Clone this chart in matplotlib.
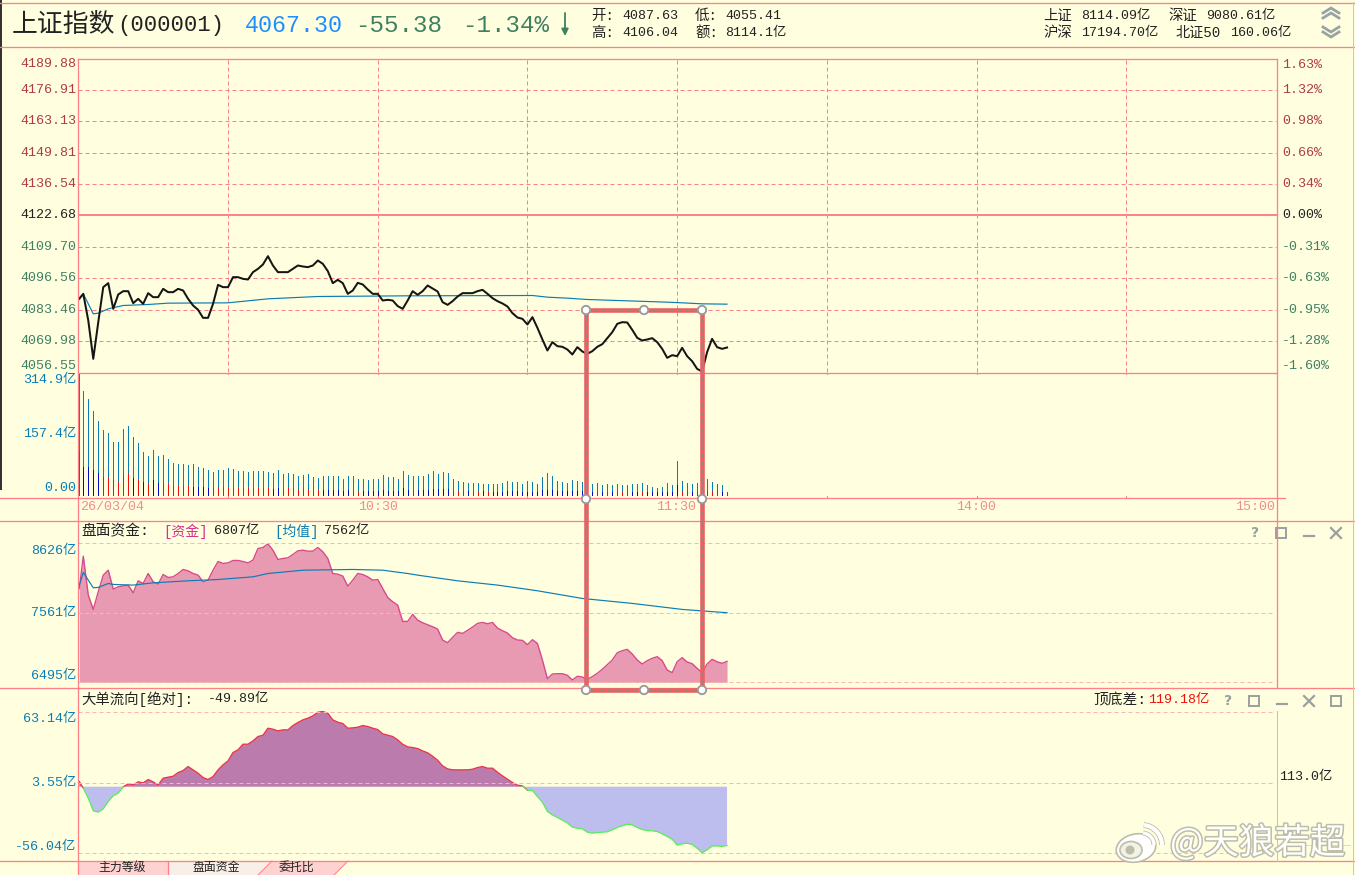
import numpy as np
import matplotlib
matplotlib.use("Agg")
import matplotlib.pyplot as plt
import matplotlib.patheffects as pe
from matplotlib.patches import Rectangle, Polygon, Ellipse, Circle, Arc

plt.rcParams['font.family'] = ['Liberation Mono', 'Noto Sans CJK SC', 'DejaVu Sans']

# 分时价格 (每分钟一个点, 9:30 起)
price = [4087.01, 4089.15, 4077.74, 4061.33, 4077.03, 4092.01, 4093.72, 4082.73, 4088.87, 4090.29,
         4090.29, 4085.16, 4087.01, 4084.87, 4089.44, 4087.73, 4087.73, 4091.29, 4089.87, 4089.87,
         4091.29, 4090.58, 4087.01, 4084.16, 4082.31, 4078.88, 4078.88, 4084.87, 4093.00, 4092.01,
         4092.01, 4096.29, 4096.29, 4095.57, 4095.29, 4098.43, 4099.85, 4101.71, 4105.27, 4101.28,
         4098.43, 4098.43, 4098.43, 4099.85, 4101.28, 4100.85, 4100.57, 4101.28, 4103.42, 4102.00,
         4098.86, 4093.72, 4095.15, 4093.72, 4089.15, 4090.58, 4093.86, 4093.15, 4091.01, 4089.15,
         4089.15, 4086.30, 4086.59, 4086.30, 4083.90,
         4082.73, 4086.30, 4090.29, 4088.73, 4090.29, 4092.72, 4091.44, 4090.15, 4085.59, 4084.44,
         4086.01, 4088.01, 4089.44, 4089.44, 4089.44, 4090.29, 4090.87, 4089.15, 4087.30, 4086.01,
         4085.02, 4083.73, 4080.88, 4079.02, 4078.45, 4076.03, 4079.17, 4074.60, 4069.61, 4064.90,
         4068.47, 4066.75, 4066.47, 4065.33, 4063.19, 4066.33, 4064.47, 4063.47, 4064.61, 4066.47,
         4067.61, 4070.18, 4072.75, 4076.31, 4077.03, 4076.88, 4073.74, 4070.32, 4069.18, 4069.61,
         4070.18, 4068.47, 4065.61, 4061.76, 4062.90, 4062.47, 4066.04, 4062.47, 4060.33, 4057.05,
         4055.91, 4064.19, 4069.89, 4066.33, 4065.61, 4066.18]
avg_min = [0, 1, 2, 3, 4, 6, 9, 14, 18, 30, 38, 48, 66, 91, 94, 98, 102, 110, 118, 121, 125, 130]
avg_price = [4087.01, 4089.15, 4084.87, 4080.59, 4080.88, 4082.73, 4084.16, 4084.59, 4085.16, 4085.30,
             4087.01, 4088.01, 4088.30, 4088.44, 4087.73, 4087.30, 4086.73, 4086.16, 4085.59, 4085.30,
             4084.87, 4084.73]

# 成交额 (亿): 总量, 下半段, 下半段颜色 1=红 0=蓝
vol_total = [314.7, 267.9, 249.7, 218.5, 192.5, 169.0, 159.5, 137.9, 136.1, 171.7,
             179.5, 150.9, 135.3, 111.8, 101.4, 117.0, 101.4, 104.0, 93.6, 83.2,
             80.6, 79.8, 78.0, 80.6, 72.8, 70.2, 65.0, 59.8, 65.0, 65.0,
             70.2, 67.6, 62.4, 62.4, 59.8, 62.4, 62.4, 62.4, 59.8, 57.2,
             65.0, 54.6, 56.4, 54.6, 49.4, 51.1, 54.6, 46.0, 44.2, 49.4,
             49.4, 49.4, 49.4, 41.6, 49.4, 49.4, 41.6, 41.6, 39.0, 41.6,
             41.6, 52.0, 46.0, 46.8, 41.6,
             62.4, 52.0, 49.4, 49.4, 49.4, 54.6, 62.4, 54.6, 59.8, 57.2,
             41.6, 36.4, 33.8, 31.2, 31.2, 31.2, 28.6, 28.6, 28.6, 28.6,
             31.2, 36.4, 33.8, 33.8, 28.6, 36.4, 33.8, 28.6, 46.8, 57.2,
             49.4, 36.4, 33.8, 31.2, 39.0, 36.4, 33.8, 30.3, 28.6, 31.2,
             26.0, 28.6, 26.0, 28.6, 26.0, 26.0, 28.6, 28.6, 31.2, 26.0,
             20.8, 18.2, 20.8, 31.2, 26.0, 88.4, 36.4, 31.2, 28.6, 31.2,
             39.0, 41.6, 33.8, 28.6, 26.0, 7.8]
vol_low = [112.7, 73.7, 73.7, 65.0, 56.4, 47.7, 46.0, 39.0, 34.7, 52.0,
           56.4, 45.0, 39.0, 34.7, 30.3, 39.0, 30.3, 30.3, 28.6, 24.3,
           24.3, 24.3, 24.3, 21.7, 21.7, 20.0, 19.0, 20.0, 20.0, 20.8,
           20.8, 20.8, 19.0, 19.0, 18.0, 18.0, 19.0, 19.0, 18.0, 16.5,
           18.0, 13.0, 19.0, 14.7, 14.7, 16.5, 14.7, 14.0, 14.0, 13.0,
           13.0, 13.0, 13.0, 11.3, 13.0, 13.0, 11.3, 11.3, 10.4, 11.3,
           11.3, 13.0, 11.3, 11.3, 11.3,
           19.0, 13.0, 13.0, 13.0, 13.0, 13.0, 15.6, 14.7, 15.6, 15.6,
           10.4, 10.4, 10.4, 10.4, 10.4, 10.4, 10.4, 8.7, 8.7, 8.7,
           8.7, 10.4, 10.4, 10.4, 8.7, 8.7, 8.7, 8.7, 13.0, 13.0,
           13.0, 10.4, 10.4, 10.4, 10.4, 10.4, 10.4, 8.7, 8.7, 8.7,
           8.7, 8.7, 8.7, 8.7, 8.7, 8.7, 8.7, 8.7, 8.7, 8.7,
           6.9, 6.9, 6.9, 8.7, 8.7, 26.0, 10.4, 10.4, 8.7, 8.7,
           10.4, 10.4, 10.4, 10.4, 8.7, 4.3]
vol_red = [1, 0, 0, 0, 0, 1, 1, 1, 1, 1, 1, 0, 1, 0, 1, 0, 0, 1, 1, 1,
           1, 1, 1, 0, 0, 0, 0, 1, 1, 1, 1, 1, 1, 1, 1, 1, 1, 1, 1, 0,
           0, 1, 1, 1, 1, 1, 1, 1, 1, 0, 0, 0, 0, 0, 0, 1, 1, 0, 0, 0,
           0, 0, 0, 0, 0,
           0, 0, 1, 0, 0, 0, 0, 0, 0, 0,
           1, 1, 1, 0, 1, 1, 0, 1, 0, 0,
           0, 0, 0, 0, 0, 0, 0, 0, 0, 0,
           0, 0, 0, 0, 0, 0, 0, 0, 0, 1,
           0, 1, 0, 1, 1, 1, 0, 0, 1, 0,
           0, 0, 0, 0, 0, 0, 1, 1, 0, 1,
           1, 1, 1, 1, 0, 1]

# 盘面资金 (亿)
capital = [7935, 8431, 7833, 7614, 7884, 8140, 8216, 7925, 7961, 7976,
           7987, 7869, 8053, 8012, 8165, 8038, 8002, 8150, 8104, 8114,
           8165, 8227, 8206, 8165, 8140, 8038, 8063, 8216, 8349, 8319,
           8329, 8365, 8365, 8349, 8329, 8370, 8549, 8564, 8620, 8523,
           8380, 8395, 8406, 8457, 8513, 8523, 8508, 8508, 8564, 8498,
           8395, 8165, 8155, 8125, 7971, 8063, 8165, 8150, 8114, 8063,
           8073, 7935, 7797, 7731, 7680,
           7430, 7430, 7537, 7450, 7409, 7379, 7348, 7312, 7144, 7103,
           7184, 7261, 7246, 7292, 7343, 7399, 7414, 7394, 7414, 7328,
           7287, 7251, 7179, 7144, 7139, 7072, 7149, 7092, 6837, 6551,
           6622, 6627, 6627, 6602, 6530, 6587, 6576, 6541, 6582, 6633,
           6694, 6765, 6837, 6949, 6980, 7001, 6929, 6837, 6776, 6827,
           6863, 6888, 6827, 6684, 6643, 6811, 6873, 6806, 6781, 6709,
           6643, 6776, 6847, 6811, 6786, 6817]
cap_avg_min = [0, 1, 2, 3, 4, 6, 7, 11, 15, 22, 28, 35, 38, 45, 55, 61, 66, 68, 76, 84, 92, 101, 111, 121, 130]
cap_avg = [7935, 8181, 8063, 7946, 7951, 8012, 7997, 7987, 8022, 8053, 8073, 8114, 8165, 8216, 8227,
           8216, 8165, 8140, 8053, 7987, 7900, 7782, 7706, 7614, 7563]

# 大单流向 (亿)
flow = [4.39, -1.23, -9.64, -20.31, -21.43, -18.62, -12.45, -7.68, -5.44, -0.10,
        2.42, 1.58, 4.11, 3.27, 6.07, 4.11, 1.58, 7.19, 8.03, 8.87,
        11.96, 13.65, 17.01, 14.21, 11.40, 7.75, 6.07, 8.60, 14.21, 18.42,
        21.78, 28.80, 31.04, 35.81, 35.81, 38.62, 42.27, 43.39, 49.28, 48.44,
        47.04, 47.88, 47.88, 51.53, 54.05, 56.30, 57.70, 59.66, 62.75, 63.31,
        61.91, 56.30, 54.33, 53.21, 49.28, 49.56, 50.12, 51.53, 50.69, 49.28,
        48.16, 44.51, 43.39, 42.27, 39.46,
        35.81, 33.57, 33.01, 32.17, 30.20, 28.52, 25.71, 22.35, 17.57, 15.05,
        14.21, 14.21, 14.21, 14.21, 14.77, 16.17, 17.01, 15.61, 15.61, 12.24,
        9.16, 6.35, 3.55, 1.30, 0.74, -2.91, -3.19, -8.24, -13.01, -20.87,
        -23.67, -25.92, -28.16, -30.41, -34.06, -34.90, -35.46, -38.27, -39.11, -38.55,
        -38.27, -37.99, -36.30, -34.34, -32.93, -31.53, -32.09, -34.34, -36.02, -36.86,
        -37.14, -37.70, -39.67, -41.91, -44.16, -49.21, -48.09, -47.53, -48.65, -51.73,
        -55.66, -53.14, -50.05, -49.77, -50.33, -49.49]

price_labels = ['4189.88', '4176.91', '4163.13', '4149.81', '4136.54', '4122.68',
                '4109.70', '4096.56', '4083.46', '4069.98', '4056.55']
pct_labels = ['1.63%', '1.32%', '0.98%', '0.66%', '0.34%', '0.00%',
              '-0.31%', '-0.63%', '-0.95%', '-1.28%', '-1.60%']
vol_ticks = [314.9, 157.4, 0.0]
vol_labels = ['314.9亿', '157.4亿', '0.00']
cap_ticks = [8626, 7561, 6495]
flow_ticks = [63.14, 3.55, -56.04]
time_labels = ['10:30', '11:30', '14:00', '15:00']

BG = '#FFFFE0'
LINE = '#FF7F86'
SOFT = '#FFB3B3'
RED = '#B03A48'
GREEN = '#3F7F62'
BLUE = '#0A7DB5'
PX = 72 / 100  # 1 像素对应的磅数
SIZE = 9.6

fig = plt.figure(figsize=(13.55, 8.75), dpi=100, facecolor=BG)
minutes = np.arange(len(price)) * 1.0
minutes[0] = 0.2


def panel(top, bottom, ylim):
    ax = fig.add_axes([78 / 1355, 1 - bottom / 875, (1277 - 78) / 1355, (bottom - top) / 875], facecolor='none')
    ax.set_xlim(-0.06, 240.2)
    ax.set_ylim(*ylim)
    ax.set_xticks([])
    ax.set_yticks([])
    for s in ax.spines.values():
        s.set_visible(False)
    return ax


def set_labels(ax, ticks, labels, colors, dy_first, dy_last, right=False):
    # 刻度文字: 两端的文字往里收一点, 和原图一样
    n = len(ticks)
    for k, (t, s) in enumerate(zip(ticks, labels)):
        dy = -dy_first if k == 0 else (dy_last if k == n - 1 else 0)
        c = colors[k] if isinstance(colors, list) else colors
        ax.annotate(s, (1 if right else 0, t), xycoords=ax.get_yaxis_transform(),
                    xytext=(5 if right else -2, dy), textcoords='offset pixels',
                    ha='left' if right else 'right', va='center', fontsize=SIZE, color=c,
                    annotation_clip=False)


def hgrid(ax, ticks, color=SOFT, x1=240):
    for t in ticks:
        ax.plot([0, x1], [t, t], color=color, lw=PX, dashes=(4, 3), zorder=5)


# ---- 价格 ----
pstep = 13.44
ptop = 4122.68 + 5 * pstep
pbot = 4122.68 - 5 * pstep
ax1 = panel(58.5, 372.5, (pbot, ptop))
pticks = [ptop - k * pstep for k in range(11)]
pcolors = [RED] * 5 + ['#222222'] + [GREEN] * 5
set_labels(ax1, pticks, price_labels, pcolors, 5.5, 6.5)
set_labels(ax1, pticks, pct_labels, pcolors, 6.5, 6.5, right=True)
hgrid(ax1, pticks[1:5] + pticks[6:10], LINE)
for m in range(30, 240, 30):
    ax1.plot([m, m], [pbot, ptop], color=LINE, lw=PX, dashes=(4, 3), zorder=1)
ax1.axhline(4122.68, color=LINE, lw=1.4)
ax1.plot(avg_min, avg_price, color=BLUE, lw=0.85, zorder=6)
ax1.plot(minutes, price, color='#151515', lw=1.45, zorder=7, solid_joinstyle='round')

# ---- 成交额 ----
ax2 = panel(372.5, 497.5, (-6.5, 317))
set_labels(ax2, vol_ticks, vol_labels, BLUE, 7, 7)
ax2.vlines(minutes, 0, vol_total, color=BLUE, lw=PX, antialiased=False)
low_colors = ['#EE1010' if r else '#0808C8' for r in vol_red]
ax2.vlines(minutes, 0, vol_low, colors=low_colors, lw=PX, antialiased=False)
for m in range(30, 240, 30):
    ax2.plot([m, m], [-6.5, -3.5], color=LINE, lw=PX)
    ax2.plot([m, m], [317, 314], color=LINE, lw=PX)

# ---- 盘面资金 ----
cap_scale = (8626 - 6495) / 139.0
ax3 = panel(520.5, 688, (6495 - 5.7 * cap_scale, 8626 + 23 * cap_scale))
set_labels(ax3, cap_ticks, ['8626亿', '7561亿', '6495亿'], BLUE, 7.5, 6.5)
ax3.fill_between(minutes, 6495, capital, color='#E89AB3', lw=0, zorder=2)
ax3.plot(minutes, capital, color='#D9498C', lw=1.0, zorder=3)
hgrid(ax3, cap_ticks, x1=239.6)
ax3.plot(cap_avg_min, cap_avg, color=BLUE, lw=0.85, zorder=6)

# ---- 大单流向 ----
flow_arr = np.array(flow)
flow_scale = 0.8417
ax4 = panel(688, 860.5, (-56.04 - 7.2 * flow_scale, 63.14 + 23.7 * flow_scale))
set_labels(ax4, flow_ticks, ['63.14亿', '3.55亿', '-56.04亿'], BLUE, 7.3, 6.3)
ax4.fill_between(minutes, 0, flow_arr, where=flow_arr >= 0, interpolate=True, color='#BB7BAD', lw=0, zorder=2)
ax4.fill_between(minutes, 0, flow_arr, where=flow_arr <= 0, interpolate=True, color='#BDBDEE', lw=0, zorder=2)
ax4.plot(minutes, np.ma.masked_where(flow_arr < -3, flow_arr), color='#F03048', lw=0.9, zorder=3)
ax4.plot(minutes, np.ma.masked_where(flow_arr > 0.8, flow_arr), color='#55EE55', lw=0.9, zorder=3)
hgrid(ax4, flow_ticks, x1=239.6)

# ---- 外框, 文字, 标注: 屏幕像素坐标 ----
ov = fig.add_axes([0, 0, 1, 1], facecolor='none', zorder=10)
ov.set_xlim(0, 1355)
ov.set_ylim(875, 0)
ov.axis('off')


def hl(y, x0=0, x1=1355, color=LINE, w=1.3):
    ov.plot([x0, x1], [y, y], color=color, lw=w * PX)


def vl(x, y0, y1, color=LINE, w=1.3):
    ov.plot([x, x], [y0, y1], color=color, lw=w * PX)


def txt(x, y, s, color='#222222', size=SIZE, **kw):
    ov.text(x, y, s, color=color, fontsize=size, va='center', ha=kw.pop('ha', 'left'), **kw)


hl(2.5)
hl(46.5)
hl(58.5, 78, 1277)
hl(372.5, 78, 1277)
hl(497.5, 0, 1285)
hl(520.5)
hl(688)
hl(860.5)
vl(78, 58.5, 875)
vl(1277, 58.5, 688)
vl(1277, 711, 860.5, color='#FFA6A6', w=1)
hl(845, 1277, 1350, color='#FFC8C0', w=1)
vl(1352.5, 2, 875, color='#FFB0B0', w=1)
ov.add_patch(Rectangle((0, 0), 1.6, 490, color='#333333', lw=0))

# 表头
txt(12, 25, '上证指数', size=18.6)
txt(117, 25, '(000001)', size=16)
txt(245, 25, '4067.30', color='#1E8FFF', size=16.8)
txt(355, 25, '-55.38', color=GREEN, size=17.4)
txt(462, 25, '-1.34%', color=GREEN, size=17.4)
ov.annotate('', xy=(565, 36), xytext=(565, 13),
            arrowprops=dict(arrowstyle='-|>,head_width=0.2,head_length=0.4', color=GREEN, lw=1.3, shrinkA=0, shrinkB=0))
txt(591, 16, '开:', size=10.4)
txt(622, 16, '4087.63')
txt(591, 33, '高:', size=10.4)
txt(622, 33, '4106.04')
txt(695, 16, '低:', size=10.4)
txt(725, 16, '4055.41')
txt(695, 33, '额:', size=10.4)
txt(725, 33, '8114.1亿')
txt(1043, 16, '上证', size=10.4)
txt(1081, 16, '8114.09亿')
txt(1168, 16, '深证', size=10.4)
txt(1206, 16, '9080.61亿')
txt(1043, 33, '沪深', size=10.4)
txt(1081, 33, '17194.70亿')
txt(1176, 33, '北证50', size=10.2)
txt(1230, 33, '160.06亿')
for y0, d in [(8, 1), (27, -1)]:
    for k in (0, 5):
        ov.plot([1323, 1331, 1339], [y0 + k + 5 * (d > 0), y0 + k + 5 * (d < 0), y0 + k + 5 * (d > 0)],
                color='#9AA3A3', lw=2.0, solid_joinstyle='miter')

# 时间轴
txt(80, 507, '26/03/04', color='#F58A8E')
for x, s in zip([398, 696, 996, 1275], time_labels):
    txt(x, 507, s, color='#F58A8E', ha='right')

# 副图标题
txt(81, 531, '盘面资金:', size=10.6)
txt(163, 531, '[资金]', color='#D62F8C', size=10)
txt(214, 531, '6807亿')
txt(274, 531, '[均值]', color=BLUE, size=10)
txt(324, 531, '7562亿')
txt(81, 699, '大单流向[绝对]:', size=10.4)
txt(208, 699, '-49.89亿')
txt(1093, 700, '顶底差:', size=10.6)
txt(1148, 700, '119.18亿', color='#EE1010')
txt(1279, 777, '113.0亿')


def buttons(y, xs):
    col = '#9AA0A0'
    q, box, dash, close = xs[:4]
    ov.text(q, y, '?', color=col, fontsize=10, fontweight='bold', family='DejaVu Sans', ha='center', va='center')
    ov.add_patch(Rectangle((box - 5, y - 5), 10, 10, fill=False, ec=col, lw=1.4))
    ov.plot([dash - 5, dash + 5], [y + 3, y + 3], color=col, lw=1.6)
    ov.plot([close - 5, close + 5], [y - 5, y + 5], color=col, lw=1.6)
    ov.plot([close - 5, close + 5], [y + 5, y - 5], color=col, lw=1.6)


buttons(533, [1255, 1281, 1309, 1336])
buttons(701, [1228, 1254, 1282, 1309])
ov.add_patch(Rectangle((1331, 696), 10, 10, fill=False, ec='#9AA0A0', lw=1.4))

# 底部标签
ov.add_patch(Polygon([(78, 861), (168, 861), (168, 875), (78, 875)], color='#FFD2D2', lw=0))
ov.add_patch(Polygon([(168, 861), (272, 861), (258, 875), (168, 875)], color='#F8F0E8', lw=0))
ov.add_patch(Polygon([(272, 861), (348, 861), (334, 875), (258, 875)], color='#FFD2D2', lw=0))
vl(168, 861, 875)
ov.plot([272, 258], [861, 875], color=LINE, lw=PX)
ov.plot([348, 334], [861, 875], color=LINE, lw=PX)
for x, s in zip([122, 216, 296], ['主力等级', '盘面资金', '委托比']):
    txt(x, 868, s, ha='center', size=8.6)

# 红色标注框
FRAME = '#EE6060'
ov.plot([586, 586, 702, 702, 586], [690, 310, 310, 690, 690], color=FRAME, lw=4.6 * PX, solid_joinstyle='miter', zorder=20)
ov.plot([586, 586, 702, 702, 586], [690, 310, 310, 690, 690], color='#A88080', lw=1.2 * PX, dashes=(4, 3), zorder=21)
for x, y in [(586, 310), (644, 310), (702, 310), (586, 499), (702, 499), (586, 690), (644, 690), (702, 690)]:
    ov.add_patch(Circle((x, y), 4.2, fc='white', ec='#999999', lw=1.3, zorder=22))

# 水印
WM = '#BDBDA8'
wm = [pe.withStroke(linewidth=2.2, foreground=WM)]
ov.text(1170, 843, '@天狼若超', color='white', fontsize=25.5, va='center', ha='left', family='Noto Sans CJK SC',
        path_effects=wm, zorder=30)
ov.add_patch(Ellipse((1136, 848), 40, 28, angle=-12, fc='white', ec=WM, lw=1.2, zorder=30))
ov.add_patch(Ellipse((1131, 850), 22, 17, fc='#F2F2E6', ec=WM, lw=1.2, zorder=31))
ov.add_patch(Circle((1130, 850), 4.5, fc=WM, lw=0, zorder=32))
for r, w in [(40, 3.0), (24, 2.4)]:
    ov.add_patch(Arc((1142, 845), r, r, theta1=-85, theta2=0, ec=WM, lw=w + 1.2, zorder=30))
    ov.add_patch(Arc((1142, 845), r, r, theta1=-85, theta2=0, ec='white', lw=w, zorder=31))

fig.savefig('out.png', dpi=100, facecolor=BG)
